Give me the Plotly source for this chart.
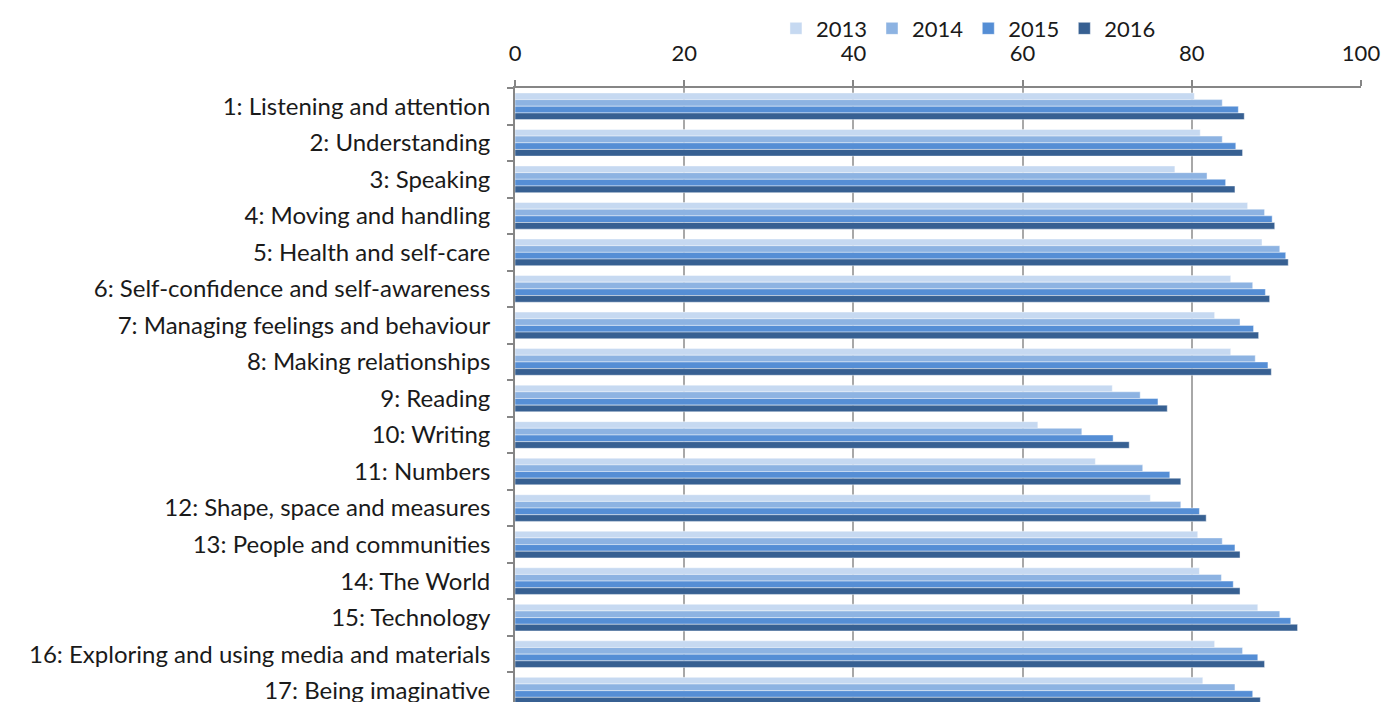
import plotly.graph_objects as go

categories = [
    "1: Listening and attention",
    "2: Understanding",
    "3: Speaking",
    "4: Moving and handling",
    "5: Health and self-care",
    "6: Self-confidence and self-awareness",
    "7: Managing feelings and behaviour",
    "8: Making relationships",
    "9: Reading",
    "10: Writing",
    "11: Numbers",
    "12: Shape, space and measures",
    "13: People and communities",
    "14: The World",
    "15: Technology",
    "16: Exploring and using media and materials",
    "17: Being imaginative",
]

v2013 = [80.3, 81.0, 78.0, 86.6, 88.3, 84.6, 82.7, 84.6, 70.6, 61.8, 68.6, 75.1, 80.7, 80.9, 87.8, 82.7, 81.3]
v2014 = [83.6, 83.6, 81.8, 88.6, 90.4, 87.2, 85.7, 87.5, 73.9, 67.0, 74.2, 78.7, 83.6, 83.5, 90.4, 86.0, 85.1]
v2015 = [85.5, 85.2, 84.0, 89.5, 91.1, 88.7, 87.3, 89.0, 76.0, 70.7, 77.4, 80.9, 85.1, 84.9, 91.7, 87.8, 87.2]
v2016 = [86.2, 86.0, 85.1, 89.8, 91.4, 89.2, 87.9, 89.4, 77.1, 72.6, 78.7, 81.7, 85.7, 85.7, 92.5, 88.6, 88.1]

series = [("2013", v2013, "#c6d9f1"), ("2014", v2014, "#8db3e2"),
          ("2015", v2015, "#558ed5"), ("2016", v2016, "#376092")]

x_ticks = [0, 20, 40, 60, 80, 100]

fig = go.Figure()
for name, vals, col in series:
    fig.add_trace(go.Bar(
        y=categories, x=vals, name=name, orientation="h",
        marker=dict(color=col, line=dict(color="rgba(255,255,255,0.55)", width=0.8)),
    ))

FONT = "Lato, Open Sans, sans-serif"
fig.update_layout(
    width=1387, height=702,
    margin=dict(l=515, r=26, t=88, b=0, autoexpand=False),
    paper_bgcolor="white", plot_bgcolor="white",
    barmode="group", bargap=0.27, bargroupgap=0,
    font=dict(family=FONT, size=24, color="#1a1a1a"),
    legend=dict(orientation="h", x=0.536, xanchor="center",
                yref="paper", y=1.131, yanchor="top",
                font=dict(size=22), itemwidth=30, traceorder="normal",
                bgcolor="rgba(0,0,0,0)"),
    showlegend=True,
)
fig.update_xaxes(
    side="top", range=[0, 100], tickvals=x_ticks,
    tickfont=dict(size=22), automargin=False,
    showgrid=True, gridcolor="#a8a8a8", gridwidth=1.8,
    showline=True, linecolor="#868686", linewidth=1.8,
    ticks="outside", ticklen=6, tickcolor="#868686", tickwidth=1.8,
    ticklabelstandoff=10, zeroline=False,
)
fig.update_yaxes(
    type="category", range=[16.31, -0.5],
    tickfont=dict(size=24), automargin=False,
    showline=True, linecolor="#868686", linewidth=1.8,
    ticks="outside", tickson="boundaries", ticklen=6, tickcolor="#868686", tickwidth=1.8,
    ticklabelstandoff=18, showgrid=False,
)

fig.write_html("out.html", config={"displayModeBar": False},
               post_script="document.body.style.margin='0px';document.body.style.overflow='hidden';")
